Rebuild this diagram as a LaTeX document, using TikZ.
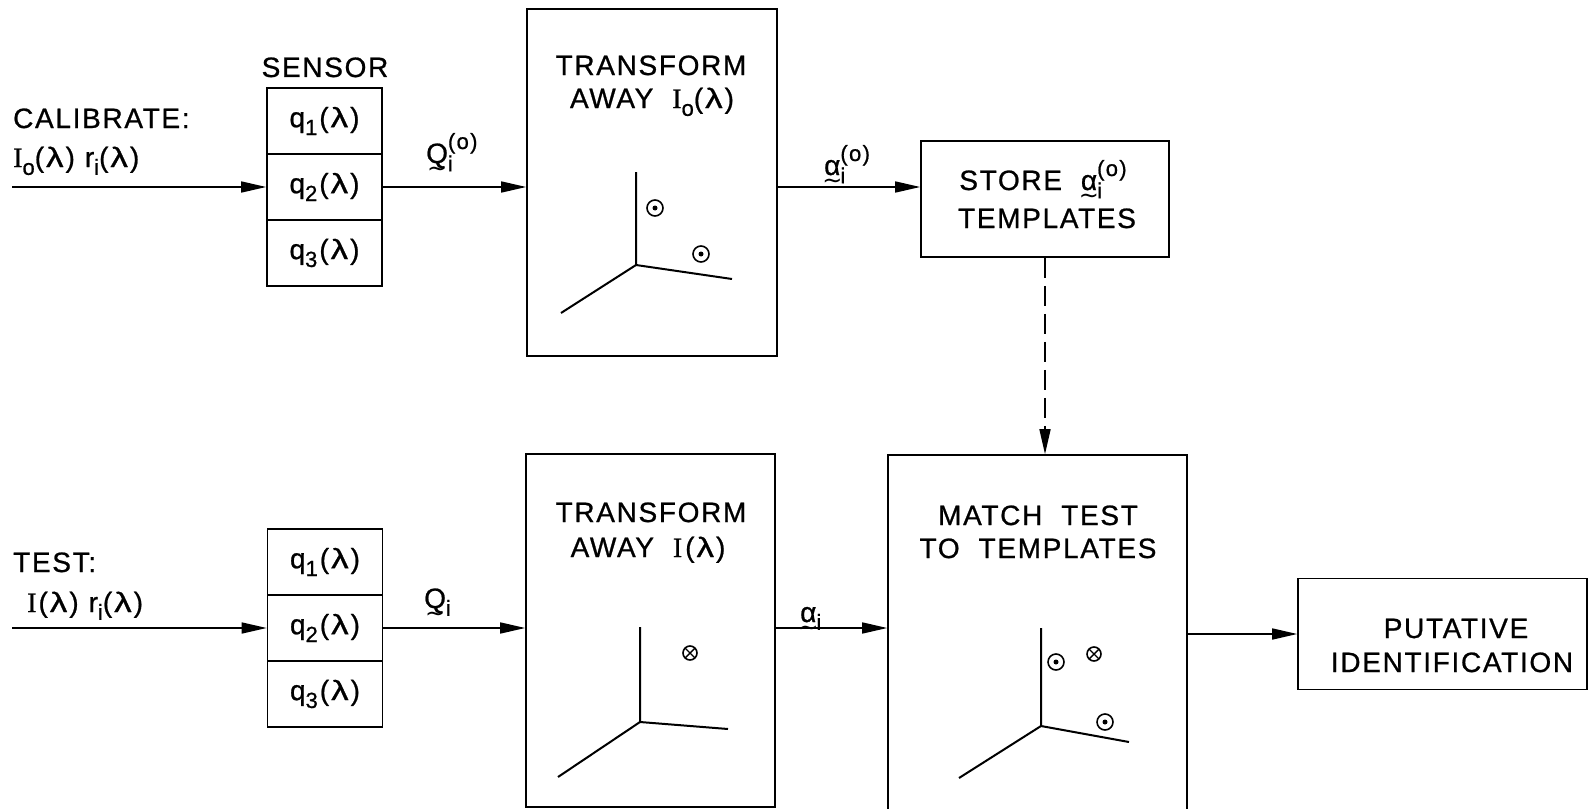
\documentclass[tikz,border=0pt]{standalone}
\usepackage{fontspec}
\usepackage{graphicx}
\setmainfont[LetterSpace=6,FakeBold=0.8]{Liberation Sans}
\newfontfamily\serI[FakeBold=0.8]{Liberation Serif}
\newfontfamily\tildefont{DejaVu Sans}
\usetikzlibrary{arrows.meta}
\newcommand{\sm}{\fontsize{22}{22}\selectfont}
\newcommand{\lo}[1]{\raisebox{-0.28em}{\sm #1}}
\newcommand{\SupSub}[2]{\ooalign{\raisebox{0.5em}{\sm #1}\cr\raisebox{-0.3em}{\sm #2}\cr}}
\newcommand{\ut}[1]{\ooalign{#1\cr\hidewidth\raisebox{-0.48em}{\tildefont\fontsize{24}{24}\selectfont\char"7E}\hidewidth\cr}}
\newcommand{\II}{{\serI I}}
\newcommand{\lam}{(\kern2pt\scalebox{1.25}[1]{λ}\kern2pt)}
\tikzset{
  every node/.style={font=\fontsize{28}{32}\selectfont, inner sep=0pt},
  box/.style={draw, line width=1.6pt, inner sep=0pt},
  arr/.style={-{Triangle[length=25pt,width=11pt]}, line width=1.6pt},
  ax/.style={line width=2pt},
  odot/.pic={\draw[line width=1.6pt] (0,0) circle (8pt); \fill (0,0) circle (2.5pt);},
  otimes/.pic={\draw[line width=1.6pt] (0,0) circle (7pt); \draw[line width=1.4pt] (-4.8,-4.8)--(4.8,4.8) (-4.8,4.8)--(4.8,-4.8);}
}
\begin{document}
\begin{tikzpicture}[x=1pt,y=-1pt]
\useasboundingbox (0,0) rectangle (1589,808);
\clip (0,0) rectangle (1589,808);

% --- top row ---
\node[anchor=base] (sensorlbl) at (325,77) {SENSOR};
\node[anchor=base west] (cal1) at (13,128) {CALIBRATE:};
\node[anchor=base west] (cal2) at (13,167) {\II\lo{o}\lam\hspace{10pt}r\lo{i}\lam};

\node[box, minimum width=115pt, minimum height=66pt] (c11) at (324.5,121) {q\lo{1}\kern2pt\lam};
\node[box, minimum width=115pt, minimum height=66pt] (c12) at (324.5,187) {q\lo{2}\kern2pt\lam};
\node[box, minimum width=115pt, minimum height=66pt] (c13) at (324.5,253) {q\lo{3}\kern2pt\lam};

\node[box, minimum width=250pt, minimum height=347pt] (T1) at (652,182.5) {};
\node[anchor=base] (t1a) at (651,75) {TRANSFORM};
\node[anchor=base] (t1b) at (652,108) {AWAY\ \ \II\lo{o}\lam};

\node[box, minimum width=248pt, minimum height=116pt] (S) at (1045,199) {};
\node[anchor=base] (s1) at (1043,190) {STORE\ \ \ut{α}\SupSub{(o)}{i}};
\node[anchor=base] (s2) at (1047,228) {TEMPLATES};

\node[anchor=base west] (lq1) at (426,163) {\ut{Q}\SupSub{(o)}{i}};
\node[anchor=base west] (la1) at (824,175) {\ut{α}\SupSub{(o)}{i}};

\draw[ax] (636,172) -- (636,265) -- (732,279);
\draw[ax] (636,265) -- (561,313);
\pic at (655,208) {odot};
\pic at (701,254) {odot};

% --- bottom row ---
\node[anchor=base west] (test1) at (13,572) {TEST:};
\node[anchor=base west] (test2) at (27,612) {\II\kern2pt\lam\hspace{10pt}r\lo{i}\lam};

\node[box, minimum width=115pt, minimum height=66pt] (c21) at (325,562) {q\lo{1}\kern2pt\lam};
\node[box, minimum width=115pt, minimum height=66pt] (c22) at (325,628) {q\lo{2}\kern2pt\lam};
\node[box, minimum width=115pt, minimum height=66pt] (c23) at (325,694) {q\lo{3}\kern2pt\lam};

\node[box, minimum width=249pt, minimum height=353pt] (T2) at (650.5,630.5) {};
\node[anchor=base] (t2a) at (651,522) {TRANSFORM};
\node[anchor=base] (t2b) at (648,557) {AWAY\ \ \II\kern3pt\lam};

\node[box, minimum width=299pt, minimum height=395pt] (M) at (1037.5,652.5) {};
\node[anchor=base] (m1) at (1038,525) {MATCH\ \ TEST};
\node[anchor=base] (m2) at (1038,558) {TO\ \ TEMPLATES};

\node[box, minimum width=289pt, minimum height=111pt] (P) at (1442.5,634) {};
\node[anchor=base] (p1) at (1456,638) {PUTATIVE};
\node[anchor=base] (p2) at (1452,672) {IDENTIFICATION};

\node[anchor=base west] (lq2) at (424,608) {\ut{Q}\lo{i}};
\node[anchor=base west] (la2) at (800,622) {\ut{α}\lo{i}};

\draw[ax] (640,627) -- (640,722) -- (728,729);
\draw[ax] (640,722) -- (558,777);
\pic at (690,653) {otimes};

\draw[ax] (1041,628) -- (1041,726) -- (1129,742);
\draw[ax] (1041,726) -- (959,778);
\pic at (1056,662) {odot};
\pic at (1094,654) {otimes};
\pic at (1105,722) {odot};

% --- connectors ---
\coordinate (in1) at (12,187);
\coordinate (in2) at (12,628);
\draw[arr] (in1) -- (c12.west);
\draw[arr] (c12.east) -- (c12.east -| T1.west);
\draw[arr] (c12.east -| T1.east) -- (c12.east -| S.west);
\draw[arr, dash pattern=on 20pt off 8pt] (S.south) -- (S.south |- M.north);
\draw[arr] (in2) -- (c22.west);
\draw[arr] (c22.east) -- (c22.east -| T2.west);
\draw[arr] (c22.east -| T2.east) -- (c22.east -| M.west);
\draw[arr] (P.west -| M.east) -- (P.west);
\end{tikzpicture}
\end{document}
